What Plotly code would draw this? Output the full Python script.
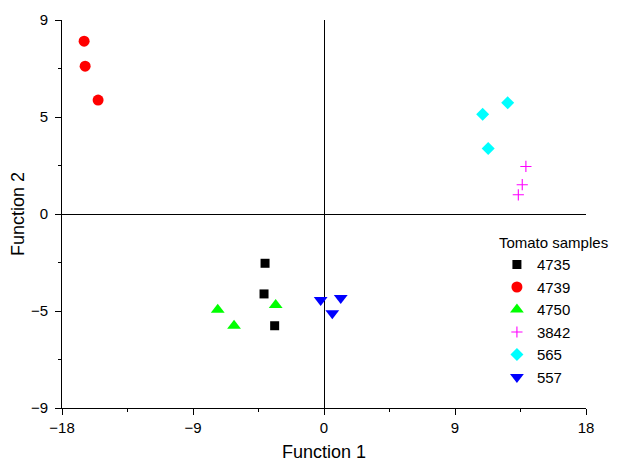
import plotly.graph_objects as go

# Data
samples = ["4735", "4739", "4750", "3842", "565", "557"]
x_4735 = [-4.05, -4.12, -3.39]
y_4735 = [-2.54, -4.12, -5.76]
x_4739 = [-16.48, -16.41, -15.52]
y_4739 = [8.91, 7.62, 5.87]
x_4750 = [-7.30, -6.18, -3.32]
y_4750 = [-4.94, -5.76, -4.69]
x_3842 = [13.87, 13.62, 13.35]
y_3842 = [2.45, 1.51, 0.99]
x_565 = [12.62, 10.90, 11.28]
y_565 = [5.73, 5.14, 3.37]
x_557 = [-0.23, 1.15, 0.57]
y_557 = [-4.43, -4.33, -5.11]

x_ticks = [-18, -9, 0, 9, 18]
y_tickvals = [-10, -5, 0, 5, 10]
y_ticktext = ["\u22129", "\u22125", "0", "5", "9"]

series = [
    ("4735", x_4735, y_4735, "square", "#000000", 9),
    ("4739", x_4739, y_4739, "circle", "#ff0000", 11),
    ("4750", x_4750, y_4750, "triangle-up", "#00ff00", 12),
    ("3842", x_3842, y_3842, "cross-thin", "#ff00ff", 8),
    ("565", x_565, y_565, "diamond", "#00ffff", 10),
    ("557", x_557, y_557, "triangle-down", "#0000ff", 12),
]

fig = go.Figure()
for name, xs, ys, sym, col, size in series:
    marker = dict(symbol=sym, color=col, size=size)
    if sym == "cross-thin":
        marker["line"] = dict(color=col, width=1.1)
    fig.add_trace(go.Scatter(x=xs, y=ys, mode="markers", name=name, marker=marker))

font = "Arial, Liberation Sans, sans-serif"
# the page body adds an 8px margin, so the figure is 8px smaller and offset
fig.update_layout(
    width=613, height=455,
    margin=dict(l=54, r=35, t=12, b=55, autoexpand=False),
    plot_bgcolor="white", paper_bgcolor="white",
    font=dict(family=font, size=15, color="black"),
    showlegend=True,
    legend=dict(
        x=0.830, y=0.462, xanchor="left", yanchor="top",
        title=dict(text="Tomato samples", font=dict(size=15)),
        font=dict(size=15), tracegroupgap=0, itemwidth=30,
        bgcolor="rgba(0,0,0,0)",
    ),
    xaxis=dict(
        range=[-18, 18], tickvals=x_ticks, showgrid=False, automargin=False,
        showline=True, linecolor="black", linewidth=1,
        ticks="outside", ticklen=6, tickcolor="black",
        zeroline=True, zerolinecolor="black", zerolinewidth=1,
        minor=dict(dtick=4.5, tick0=0, ticks="outside", ticklen=3, tickcolor="black"),
        title=dict(text="Function 1", font=dict(size=18), standoff=10),
        tickfont=dict(size=15),
    ),
    yaxis=dict(
        range=[-10, 10], tickvals=y_tickvals, ticktext=y_ticktext, showgrid=False,
        automargin=False,
        showline=True, linecolor="black", linewidth=1,
        ticks="outside", ticklen=6, tickcolor="black", ticklabelstandoff=4,
        zeroline=True, zerolinecolor="black", zerolinewidth=1,
        minor=dict(dtick=2.5, tick0=0, ticks="outside", ticklen=3, tickcolor="black"),
        title=dict(text="Function 2", font=dict(size=18), standoff=1),
        tickfont=dict(size=15),
    ),
)

fig.write_html("out.html")
